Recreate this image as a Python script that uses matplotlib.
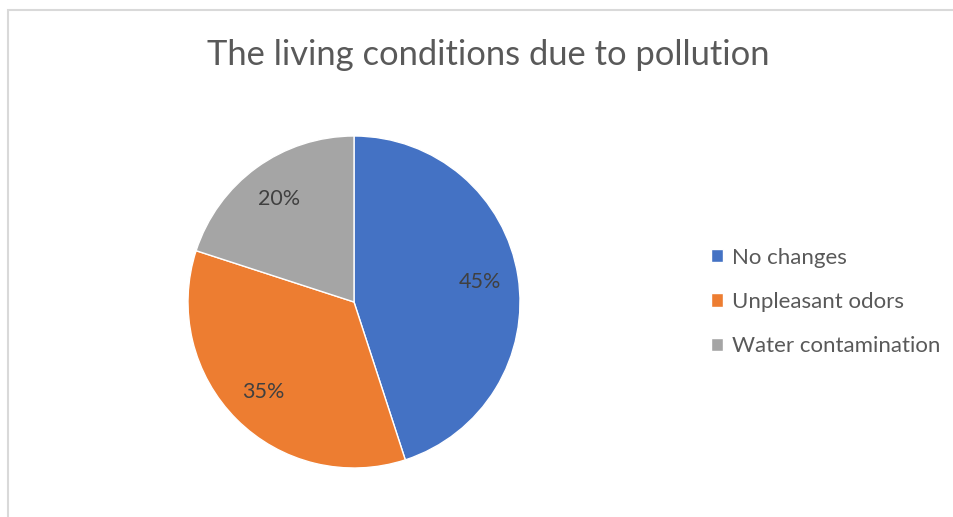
import matplotlib
matplotlib.use("Agg")
import matplotlib.pyplot as plt
from matplotlib.patches import Rectangle

categories = ["No changes", "Unpleasant odors", "Water contamination"]
values = [45, 35, 20]
colors = ["#4472C4", "#ED7D31", "#A5A5A5"]
title = "The living conditions due to pollution"

plt.rcParams['font.family'] = ['Lato', 'DejaVu Sans']

W, H = 954, 517
fig = plt.figure(figsize=(W/100, H/100), dpi=100)
fig.patch.set_facecolor("white")

# chart frame
fig.patches.append(Rectangle((8/W, -0.1), 1.2, (H-10)/H + 0.1, transform=fig.transFigure,
                             fill=False, edgecolor="#D9D9D9", linewidth=1.5))

# pie axes: center (354,302), radius 166
cx, cy, r = 354, 302, 166
ax = fig.add_axes([(cx - r)/W, (H - cy - r)/H, 2*r/W, 2*r/H])
wedges, texts, autotexts = ax.pie(values, colors=colors, startangle=90, counterclock=False,
                                  autopct=lambda p: f"{p:.0f}%", pctdistance=0.77,
                                  wedgeprops=dict(edgecolor="white", linewidth=1),
                                  textprops=dict(color="#404040", fontsize=15.5))
ax.set_aspect("equal")
ax.set_xlim(-1, 1)
ax.set_ylim(-1, 1)

fig.text(488/W, 1 - 55/H, title, ha="center", va="center", fontsize=24.8, color="#595959")

leg = fig.legend(wedges, categories, loc="center left", bbox_to_anchor=(711/W, 1 - 302/H),
                 frameon=False, fontsize=16, handlelength=0.55, handleheight=0.55,
                 handletextpad=0.4, labelspacing=1.1, labelcolor="#595959",
                 borderpad=0, borderaxespad=0)

fig.savefig("out.png", dpi=100)
